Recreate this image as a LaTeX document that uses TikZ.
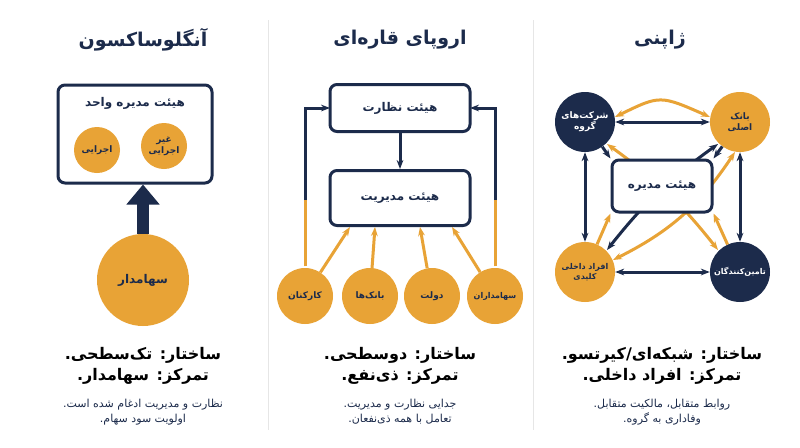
\documentclass[tikz,border=0pt]{standalone}
\usepackage{fontspec}
\newfontfamily\arfont[Script=Arabic]{DejaVu Sans}
\TeXXeTstate=1
\newcommand{\fa}[1]{{\arfont\beginR #1\endR}}
\usetikzlibrary{arrows.meta,calc}
\definecolor{navy}{HTML}{1C2B4B}
\definecolor{org}{HTML}{E8A336}
\definecolor{divc}{HTML}{E6E6E6}
\begin{document}
\begin{tikzpicture}[x=1pt,y=-1pt,
  box/.style={draw=navy,line width=3pt,rounded corners=7pt,fill=white,text=navy,font=\large\bfseries},
  oc/.style={circle,fill=org,text=navy,align=center,font=\small\bfseries,inner sep=0pt},
  nc/.style={circle,fill=navy,text=white,align=center,font=\small\bfseries,inner sep=0pt},
  ttl/.style={text=navy,font=\fontsize{19}{22}\selectfont\bfseries},
  big/.style={text=black,font=\fontsize{16}{21}\selectfont\bfseries,align=center},
  sm/.style={text=navy,font=\fontsize{11}{15}\selectfont,align=center},
  na/.style={navy,line width=3pt,-{Stealth[length=9pt]}},
  oa/.style={org,line width=3pt,-{Stealth[length=9pt]}},
  nb/.style={navy,line width=3pt,{Stealth[length=9pt]}-{Stealth[length=9pt]}},
  ob/.style={org,line width=3pt,{Stealth[length=9pt]}-{Stealth[length=9pt]}}]
\useasboundingbox (0,0) rectangle (800,447);
\fill[white] (0,0) rectangle (800,447);
\draw[divc] (268,20) -- (268,430);
\draw[divc] (533,20) -- (533,430);
% titles
\node[ttl] (t1) at (143,40) {\fa{آنگلوساکسون}};
\node[ttl] (t2) at (400,40) {\fa{اروپای قاره‌ای}};
\node[ttl] (t3) at (660,40) {\fa{ژاپنی}};
% left
\node[box,minimum width=154pt,minimum height=98pt] (L) at (135,134) {};
\node[text=navy,font=\large\bfseries] (Lt) at (135,103) {\fa{هیئت مدیره واحد}};
\node[oc,minimum size=46pt] (Le) at (97,150) {\fa{اجرایی}};
\node[oc,minimum size=46pt] (Ln) at (164,146) {\fa{غیر}\\\fa{اجرایی}};
\node[oc,minimum size=92pt,font=\large\bfseries] (Ls) at (143,280) {\fa{سهامدار}};
\draw[navy,line width=12pt,-{Triangle[length=20pt,width=32pt]}] (Ls.north) -- (L.south -| Ls);
\node[big] (Lb) at (143,366) {\fa{ساختار: تک‌سطحی.}\\\fa{تمرکز: سهامدار.}};
\node[sm] (Lc) at (143,412) {\fa{نظارت و مدیریت ادغام شده است.}\\\fa{اولویت سود سهام.}};
% middle
\draw[na] (305,266) -- (305,108) -- (330,108);
\draw[na] (495,266) -- (495,108) -- (470,108);
\draw[org,line width=3pt] (305,266) -- (305,200);
\draw[org,line width=3pt] (495,266) -- (495,200);
\node[box,minimum width=140pt,minimum height=47pt] (S) at (400,108) {\fa{هیئت نظارت}};
\node[box,minimum width=140pt,minimum height=55pt] (M) at (400,198) {\fa{هیئت مدیریت}};
\draw[na] (S) -- (M);
\node[oc,minimum size=56pt] (c1) at (305,296) {\fa{کارکنان}};
\node[oc,minimum size=56pt] (c2) at (370,296) {\fa{بانک‌ها}};
\node[oc,minimum size=56pt] (c3) at (432,296) {\fa{دولت}};
\node[oc,minimum size=56pt,font=\footnotesize\bfseries] (c4) at (495,296) {\fa{سهامداران}};
\draw[oa] (c1) -- ([xshift=-50pt]M.south);
\draw[oa] (c2) -- ([xshift=-25pt]M.south);
\draw[oa] (c3) -- ([xshift=20pt]M.south);
\draw[oa] (c4) -- ([xshift=52pt]M.south);
\node[big] (Mb) at (400,366) {\fa{ساختار: دوسطحی.}\\\fa{تمرکز: ذی‌نفع.}};
\node[sm] (Mc) at (400,412) {\fa{جدایی نظارت و مدیریت.}\\\fa{تعامل با همه ذی‌نفعان.}};
% right
\coordinate (gp) at (585,122); \coordinate (bp) at (740,122);
\coordinate (kp) at (585,272); \coordinate (sp) at (740,272);
\draw[ob] ($(bp)+(-5,30)$) to[bend left=15] ($(kp)+(28,-12)$);
\draw[ob] ($(gp)+(30,-5)$) .. controls (660,95) .. ($(bp)+(-30,-5)$);
\draw[ob] ($(gp)+(22,22)$) to[bend left=8] ($(sp)+(-22,-22)$);
\draw[nb] ($(bp)+(-22,22)$) to[bend right=8] ($(kp)+(22,-22)$);
\node[box,minimum width=100pt,minimum height=52pt] (J) at (662,186) {\fa{هیئت مدیره}};
\node[nc,minimum size=60pt] (g) at (gp) {\fa{شرکت‌های}\\\fa{گروه}};
\node[oc,minimum size=60pt] (b) at (bp) {\fa{بانک}\\\fa{اصلی}};
\node[oc,minimum size=60pt,font=\footnotesize\bfseries] (k) at (kp) {\fa{افراد داخلی}\\\fa{کلیدی}};
\node[nc,minimum size=60pt,font=\footnotesize\bfseries] (s) at (sp) {\fa{تامین‌کنندگان}};
\draw[nb] (g) -- (b);
\draw[nb] (k) -- (s);
\draw[nb] (g) -- (k);
\draw[nb] (b) -- (s);
\draw[na] (g) -- (J.north west);
\draw[na] (b) -- (J.north east);
\draw[oa] (k) -- (J.south west);
\draw[oa] (s) -- (J.south east);
\node[big] (Jb) at (662,366) {\fa{ساختار: شبکه‌ای/کیرتسو.}\\\fa{تمرکز: افراد داخلی.}};
\node[sm] (Jc) at (662,412) {\fa{روابط متقابل، مالکیت متقابل.}\\\fa{وفاداری به گروه.}};
\end{tikzpicture}
\end{document}
